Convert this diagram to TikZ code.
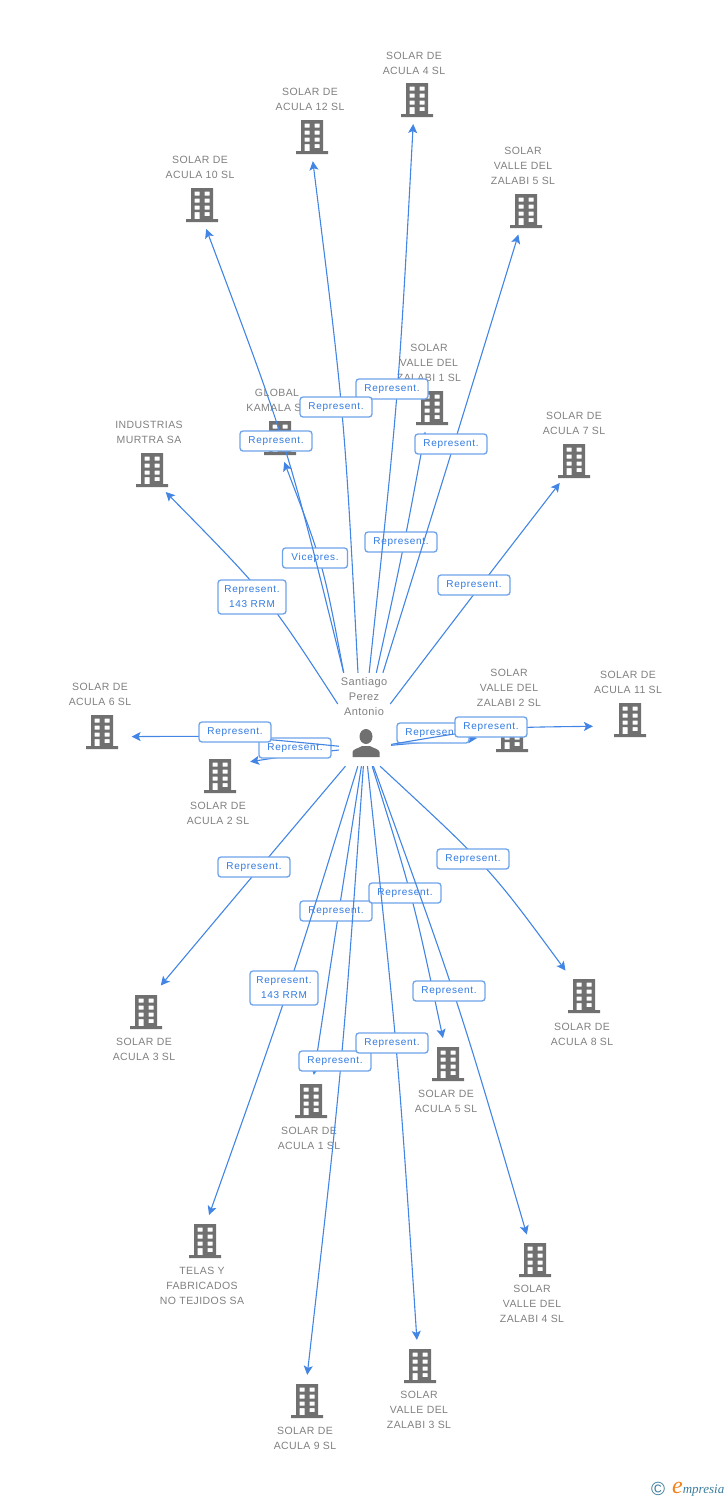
\documentclass[tikz,border=0pt]{standalone}
\usepackage{fontspec}
\setmainfont{Liberation Sans}
\newfontfamily\namefont[LetterSpace=4]{Liberation Sans}
\newfontfamily\repfont[LetterSpace=7]{Liberation Sans}
\newfontfamily\markfont{Liberation Serif}
\usetikzlibrary{arrows.meta,shapes.geometric}
\definecolor{icongray}{RGB}{112,112,112}
\definecolor{namegray}{RGB}{128,128,128}
\definecolor{linkblue}{RGB}{66,133,228}
\definecolor{boxblue}{RGB}{110,163,234}
\definecolor{repblue}{RGB}{48,122,226}
\definecolor{markteal}{RGB}{58,124,156}
\definecolor{markorange}{RGB}{244,130,24}
\tikzset{
building/.style={ellipse,minimum width=66pt,minimum height=48pt,inner sep=0pt,
  path picture={\fill[icongray,even odd rule,shift={(path picture bounding box.center)}]
  (-11,-17) rectangle (11,14) (-16,14) rectangle (16,17)
  (-7.5,-13.5) rectangle (-2.5,-9.5) (2.5,-13.5) rectangle (7.5,-9.5)
  (-7.5,-6.5) rectangle (-2.5,-2.5) (2.5,-6.5) rectangle (7.5,-2.5)
  (-7.5,0.5) rectangle (-2.5,4.5) (2.5,0.5) rectangle (7.5,4.5)
  (-7.5,7) rectangle (-2.5,14) (2.5,7) rectangle (7.5,11);}},
human/.style={rectangle,minimum width=52pt,minimum height=46pt,inner sep=0pt,
  path picture={\fill[icongray,shift={(path picture bounding box.center)}]
  (1,-6.5) ellipse (6.5 and 7.5)
  (-12.5,14) -- (-12.5,9) .. controls (-12,6) and (-7,5.5) .. (-3,3) -- (5,3)
  .. controls (9,5.5) and (14,6) .. (14.5,9) -- (14.5,14) -- cycle;}},
compname/.style={text=namegray,align=center,inner sep=0pt,yshift=-1pt,font=\namefont\fontsize{10.5}{15}\selectfont},
link/.style={draw=linkblue,line width=1.1pt,-{Stealth[length=9pt,width=9pt,inset=2pt]}},
linklow/.style={link,shorten >=2pt},
linkfar/.style={link,shorten >=5pt},
rep/.style={draw=boxblue,fill=white,line width=1.3pt,rounded corners=3pt,text=repblue,align=center,
  inner sep=0pt,minimum width=72pt,minimum height=20pt,font=\repfont\fontsize{10}{15}\selectfont},
rep2/.style={rep,minimum width=68pt,minimum height=34pt}
}
\begin{document}
\begin{tikzpicture}[x=1pt,y=-1pt]
\useasboundingbox (0,0) rectangle (728,1500);
% companies
\node[building] (acula4) at (417,100) {};
\node[building] (acula12) at (312,137) {};
\node[building] (acula10) at (202,205) {};
\node[building] (valle5) at (526,211) {};
\node[building] (valle1) at (432,408) {};
\node[building] (kamala) at (280,438) {};
\node[building] (murtra) at (152,470) {};
\node[building] (acula7) at (574,461) {};
\node[building] (acula6) at (102,732) {};
\node[building] (acula2) at (220,776) {};
\node[building] (valle2) at (512,735) {};
\node[building] (acula11) at (630,720) {};
\node[building] (acula3) at (146,1012) {};
\node[building] (acula8) at (584,996) {};
\node[building] (acula5) at (448,1064) {};
\node[building] (acula1) at (311,1101) {};
\node[building] (telas) at (205,1241) {};
\node[building] (valle4) at (535,1260) {};
\node[building] (acula9) at (307,1401) {};
\node[building] (valle3) at (420,1366) {};
% their names
\node[compname] (nacula4) at (414,62) {SOLAR DE\\ACULA 4 SL};
\node[compname] (nacula12) at (310,98) {SOLAR DE\\ACULA 12 SL};
\node[compname] (nacula10) at (200,166) {SOLAR DE\\ACULA 10 SL};
\node[compname] (nvalle5) at (523,165) {SOLAR\\VALLE DEL\\ZALABI 5 SL};
\node[compname] (nvalle1) at (429,362) {SOLAR\\VALLE DEL\\ZALABI 1 SL};
\node[compname] (nkamala) at (277,399) {GLOBAL\\KAMALA SL};
\node[compname] (nmurtra) at (149,431) {INDUSTRIAS\\MURTRA SA};
\node[compname] (nacula7) at (574,422) {SOLAR DE\\ACULA 7 SL};
\node[compname] (nacula6) at (100,693) {SOLAR DE\\ACULA 6 SL};
\node[compname] (nacula2) at (218,812) {SOLAR DE\\ACULA 2 SL};
\node[compname] (nvalle2) at (509,687) {SOLAR\\VALLE DEL\\ZALABI 2 SL};
\node[compname] (nacula11) at (628,681) {SOLAR DE\\ACULA 11 SL};
\node[compname] (nacula3) at (144,1048) {SOLAR DE\\ACULA 3 SL};
\node[compname] (nacula8) at (582,1033) {SOLAR DE\\ACULA 8 SL};
\node[compname] (nacula5) at (446,1100) {SOLAR DE\\ACULA 5 SL};
\node[compname] (nacula1) at (309,1137) {SOLAR DE\\ACULA 1 SL};
\node[compname] (ntelas) at (202,1285) {TELAS Y\\FABRICADOS\\NO TEJIDOS SA};
\node[compname] (nvalle4) at (532,1303) {SOLAR\\VALLE DEL\\ZALABI 4 SL};
\node[compname] (nacula9) at (305,1437) {SOLAR DE\\ACULA 9 SL};
\node[compname] (nvalle3) at (419,1409) {SOLAR\\VALLE DEL\\ZALABI 3 SL};
% the person
\node[human] (person) at (365,743) {};
\node[compname,minimum width=52pt,minimum height=48pt,font=\namefont\fontsize{11}{15}\selectfont] (pname) at (364,696) {Santiago\\Perez\\Antonio};
% links, upper half
\draw[link] (pname.130) .. controls (323.5,565) .. (kamala.-80);
\node[rep,minimum width=65pt] (lkamala) at (315,558) {Vicepres.};
\draw[link] (pname.63) .. controls (403,551) .. (valle1.-106);
\node[rep] (lvalle1) at (401,542) {Represent.};
\draw[link] (pname.78) .. controls (398.5,397) .. (acula4.-99);
\node[rep] (lacula4) at (392,389) {Represent.};
\draw[link] (pname.104) .. controls (344.5,415) .. (acula12.-88);
\node[rep] (lacula12) at (336,407) {Represent.};
\draw[link] (pname.52) .. controls (452,451) .. (valle5.-108);
\node[rep] (lvalle5) at (451,444) {Represent.};
\draw[link] (pname.130) .. controls (288,447) .. (acula10.-80);
\node[rep] (lacula10) at (276,441) {Represent.};
\draw[link] (pname.195) .. controls (267,595) .. (murtra.-58);
\node[rep2] (lmurtra) at (252,597) {Represent.\\143 RRM};
\draw[link] (pname.-15) .. controls (474,594) .. (acula7.-123);
\node[rep] (lacula7) at (474,585) {Represent.};
% links, sideways
\draw[linklow,shorten >=3pt] (person.195) .. controls (294,755) .. (acula2.27);
\node[rep] (lacula2) at (295,748) {Represent.};
\draw[link,shorten >=-3pt] (person.187) .. controls (235,736) .. (acula6.-8);
\node[rep] (lacula6) at (235,732) {Represent.};
\draw[linklow] (person.-5) .. controls (433,741.5) .. (valle2.185);
\node[rep] (lvalle2) at (433,733) {Represent.};
\draw[linkfar] (person.-3) .. controls (491,727.5) .. (acula11.191);
\node[rep] (lacula11) at (491,727) {Represent.};
% links, lower half
\draw[linkfar] (person) .. controls (253.5,875) .. (acula3.63);
\node[rep] (lacula3) at (254,867) {Represent.};
\draw[linkfar] (person.-57) .. controls (490,868) .. (acula8.126);
\node[rep] (lacula8) at (473,859) {Represent.};
\draw[linklow] (person) .. controls (337.5,920) .. (acula1.84);
\node[rep] (lacula1) at (336,911) {Represent.};
\draw[linklow] (person) .. controls (342,1070) .. (acula9.90);
\node[rep] (lacula9) at (335,1061) {Represent.};
\draw[linklow] (person) .. controls (414,901) .. (acula5.101);
\node[rep] (lacula5) at (405,893) {Represent.};
\draw[linklow] (person) .. controls (398,1052) .. (valle3.97);
\node[rep] (lvalle3) at (392,1043) {Represent.};
\draw[linklow] (person) .. controls (458,1000) .. (valle4.108);
\node[rep] (lvalle4) at (449,991) {Represent.};
\draw[linklow] (person) .. controls (289,990) .. (telas.82);
\node[rep2] (ltelas) at (284,988) {Represent.\\143 RRM};
% mark
\node[text=markteal,inner sep=0pt,font=\fontsize{19}{19}\selectfont] (mcopy) at (658,1489) {\textcopyright};
\node[anchor=base west,inner sep=0pt,text=markteal,font=\markfont\itshape\fontsize{13}{13}\selectfont] (mword) at (672,1493) {{\color{markorange}\fontsize{24}{24}\selectfont e}mpresia};
\end{tikzpicture}
\end{document}
